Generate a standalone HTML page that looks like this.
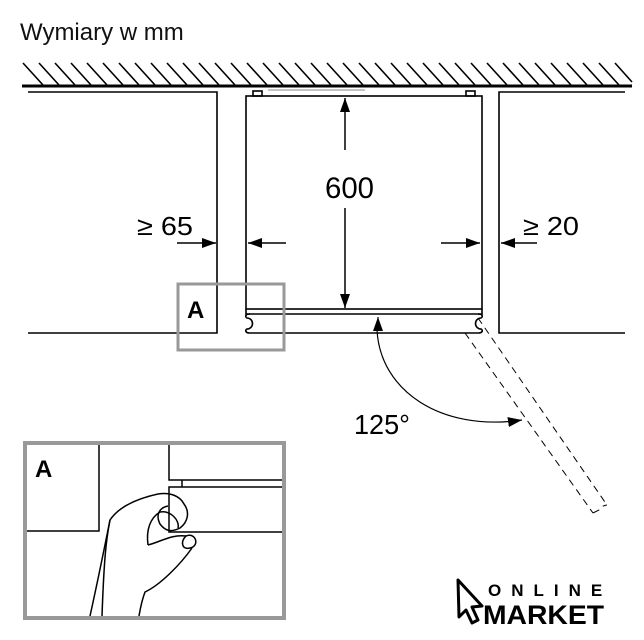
<!DOCTYPE html>
<html><head><meta charset="utf-8"><style>
html,body{margin:0;padding:0;background:#fff;}
svg{display:block;}
text{font-family:"Liberation Sans",sans-serif;}
</style></head><body>
<svg width="644" height="640" viewBox="0 0 644 640" xmlns="http://www.w3.org/2000/svg">
<defs>
<marker id="ah2" markerWidth="14" markerHeight="10" refX="14" refY="5" orient="auto" markerUnits="userSpaceOnUse">
<path d="M0,0 L14,5 L0,10 z" fill="#000"/></marker>
</defs>
<text x="20" y="40" font-size="24" fill="#111">Wymiary w mm</text>
<line x1="22" y1="86" x2="632" y2="86" stroke="#000" stroke-width="3"/>
<g stroke="#000" stroke-width="1.6">
<path d="M23,63 L43,85 M39,63 L59,85 M55,63 L75,85 M71,63 L91,85 M87,63 L107,85 M103,63 L123,85 M119,63 L139,85 M135,63 L155,85 M151,63 L171,85 M167,63 L187,85 M183,63 L203,85 M199,63 L219,85 M215,63 L235,85 M231,63 L251,85 M247,63 L267,85 M263,63 L283,85 M279,63 L299,85 M295,63 L315,85 M311,63 L331,85 M327,63 L347,85 M343,63 L363,85 M359,63 L379,85 M375,63 L395,85 M391,63 L411,85 M407,63 L427,85 M423,63 L443,85 M439,63 L459,85 M455,63 L475,85 M471,63 L491,85 M487,63 L507,85 M503,63 L523,85 M519,63 L539,85 M535,63 L555,85 M551,63 L571,85 M567,63 L587,85 M583,63 L603,85 M599,63 L619,85 M615,63 L632,82"/>
</g>
<g fill="none" stroke="#000" stroke-width="1.6">
<path d="M28,92 H217 V333 H28"/>
<path d="M625,92 H499 V333 H625"/>
<rect x="246" y="96" width="236" height="213"/>
<rect x="253" y="91" width="9" height="5"/>
<rect x="466" y="91" width="9" height="5"/>
<line x1="268" y1="90" x2="365" y2="90" stroke="#888" stroke-width="1"/>
<path d="M246,309 V314 H482 V309"/>
<path d="M250,314 C245,314 245,317 247,318 A5.5,5.5 0 0 1 247,329 C245,330 245,333 250,333 H478 C483,333 483,330 481,329 A5.5,5.5 0 0 1 481,318 C483,317 483,314 478,314"/>
</g>
<line x1="345" y1="150" x2="345" y2="98" stroke="#000" stroke-width="1.5" marker-end="url(#ah2)"/>
<line x1="345" y1="208" x2="345" y2="308" stroke="#000" stroke-width="1.5" marker-end="url(#ah2)"/>
<text x="325" y="198" font-size="30" textLength="49" lengthAdjust="spacingAndGlyphs">600</text>
<g stroke="#000" stroke-width="1.5">
<line x1="177" y1="243" x2="216" y2="243" marker-end="url(#ah2)"/>
<line x1="286" y1="243" x2="248" y2="243" marker-end="url(#ah2)"/>
<line x1="441" y1="243" x2="480" y2="243" marker-end="url(#ah2)"/>
<line x1="537" y1="243" x2="501" y2="243" marker-end="url(#ah2)"/>
</g>
<text x="137" y="235" font-size="26" textLength="56" lengthAdjust="spacingAndGlyphs">≥ 65</text>
<text x="523" y="235" font-size="26" textLength="56" lengthAdjust="spacingAndGlyphs">≥ 20</text>
<rect x="178" y="284" width="106" height="66" fill="none" stroke="#999" stroke-width="3"/>
<text x="187" y="318" font-size="24" font-weight="bold">A</text>
<g stroke="#000" stroke-width="1" stroke-dasharray="7,5" fill="none">
<line x1="465" y1="333" x2="593" y2="513"/>
<line x1="478" y1="318" x2="607" y2="505"/>
<path d="M593,513 L599,510 Q603,505 607,505"/>
</g>
<path d="M377,330 C380,390 440,432 522,420" fill="none" stroke="#000" stroke-width="1.2" marker-end="url(#ah2)"/>
<line x1="378" y1="330" x2="378" y2="317" stroke="#000" stroke-width="1.2" marker-end="url(#ah2)"/>
<text x="354" y="434" font-size="28" textLength="56" lengthAdjust="spacingAndGlyphs">125°</text>
<rect x="25" y="443" width="259" height="175" fill="#fff" stroke="#999" stroke-width="4"/>
<g fill="none" stroke="#000" stroke-width="1.5">
<path d="M99,445 V531 H27"/>
<path d="M169,445 V480 H282"/>
<path d="M282,487 H169 V532 H282"/>
<line x1="182" y1="480" x2="182" y2="487"/>
<path d="M90,616 C98,580 104,550 110,520 C120,505 140,498 158,494 C170,492 180,496 184,504 C190,512 188,522 180,528 C172,532 166,532 160,524 C156,516 158,508 168,506"/>
<path d="M148,545 C146,530 150,518 160,512 C170,510 180,520 178,528"/>
<path d="M148,545 C160,542 172,534 186,536"/>
<path d="M186,536 C196,532 200,546 190,548 C182,550 180,542 186,536"/>
<path d="M192,548 C180,565 160,585 145,592 C142,600 140,610 139,616"/>
<path d="M110,520 C106,540 104,560 102,616"/>
</g>
<text x="35" y="477" font-size="24" font-weight="bold">A</text>
<path d="M458,580 L482,606 L472,607 L478,620 L472,623 L466,610 L459,617 Z" fill="none" stroke="#000" stroke-width="3" stroke-linejoin="round"/>
<text x="488" y="596" font-size="17" font-weight="bold" letter-spacing="10">ONLINE</text>
<text x="483" y="624" font-size="27" font-weight="bold" textLength="121" lengthAdjust="spacingAndGlyphs">MARKET</text>
</svg>
</body></html>
